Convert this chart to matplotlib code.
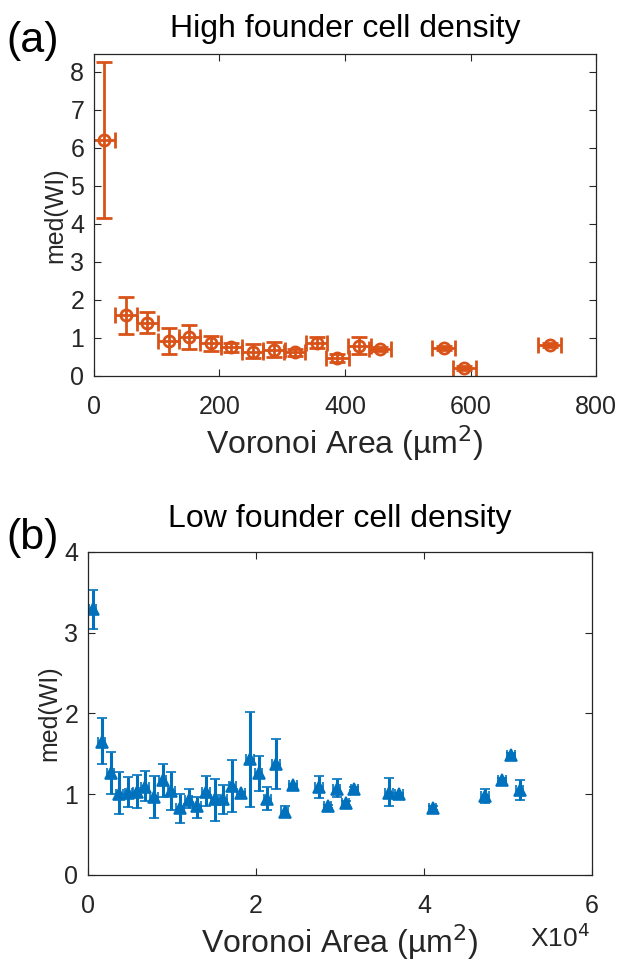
import matplotlib
matplotlib.use('Agg')
import matplotlib.pyplot as plt
import numpy as np

plt.rcParams['font.family'] = ['Liberation Sans', 'DejaVu Sans']

# (a) high founder cell density
high_area = [16, 51, 85, 119, 152, 186, 219, 253, 287, 320, 355, 388, 423, 456, 557, 590, 726]
high_med = [6.21, 1.61, 1.40, 0.92, 1.03, 0.88, 0.75, 0.64, 0.68, 0.63, 0.88, 0.47, 0.80, 0.70, 0.73, 0.22, 0.82]
high_hi = [8.27, 2.09, 1.68, 1.27, 1.33, 1.06, 0.86, 0.83, 0.89, 0.72, 1.03, 0.58, 1.03, 0.75, 0.78, 0.27, 0.87]
high_lo = [4.15, 1.10, 1.12, 0.58, 0.70, 0.66, 0.64, 0.47, 0.51, 0.53, 0.73, 0.38, 0.58, 0.65, 0.68, 0.17, 0.77]
high_xerr = [17, 17, 17, 17, 17, 17, 17, 17, 17, 17, 17, 18, 18, 18, 18, 18, 18]

# (b) low founder cell density
low_area = [560, 1630, 2700, 3730, 4800, 5800, 6820, 7860, 8890, 9920, 10950, 11990,
            13010, 14050, 15080, 16110, 17180, 18250, 19290, 20320, 21350, 22380, 23420, 24440,
            27500, 28530, 29600, 30680, 31710, 35830, 37020, 41030, 47260, 49320, 50360, 51390]
low_med = [3.29, 1.65, 1.26, 1.00, 1.02, 1.03, 1.09, 0.97, 1.18, 1.04, 0.83, 0.93,
           0.85, 1.03, 0.94, 0.94, 1.10, 1.01, 1.43, 1.26, 0.94, 1.38, 0.78, 1.11,
           1.09, 0.85, 1.07, 0.89, 1.07, 1.02, 1.00, 0.83, 0.98, 1.18, 1.49, 1.05]
low_hi = [3.53, 1.95, 1.52, 1.27, 1.21, 1.24, 1.29, 1.23, 1.38, 1.28, 1.00, 1.06,
          0.96, 1.22, 1.19, 1.11, 1.42, 1.03, 2.02, 1.47, 1.09, 1.68, 0.85, 1.13,
          1.23, 0.87, 1.19, 0.92, 1.09, 1.20, 1.02, 0.85, 1.07, 1.20, 1.51, 1.18]
low_lo = [3.04, 1.37, 1.00, 0.75, 0.84, 0.83, 0.92, 0.71, 0.96, 0.81, 0.64, 0.83,
          0.71, 0.85, 0.67, 0.75, 0.78, 0.99, 0.84, 1.04, 0.81, 1.06, 0.72, 1.09,
          0.95, 0.83, 0.97, 0.86, 1.05, 0.85, 0.98, 0.81, 0.89, 1.16, 1.47, 0.93]
low_xerr = 450

orange = '#D95319'
blue = '#0072BD'
dark = '#262626'


def style_axes(ax):
    ax.tick_params(direction='in', length=5, width=0.8, top=True, right=True,
                   labelsize=18, colors=dark, pad=7)
    ax.tick_params(axis='x', pad=14)
    for s in ax.spines.values():
        s.set_color(dark)
        s.set_linewidth(0.9)


fig = plt.figure(figsize=(6.2, 9.65), dpi=100)

ax1 = fig.add_axes([0.1516, 0.6104, 0.8097, 0.3337])
y = np.array(high_med)
yerr = [y - np.array(high_lo), np.array(high_hi) - y]
ax1.errorbar(high_area, high_med, yerr=yerr, xerr=high_xerr, fmt='o', color=orange,
             mfc='none', mec=orange, ms=8, mew=2.0, elinewidth=2.0, capsize=6, capthick=2.0)
ax1.set_xlim(0, 800)
ax1.set_ylim(0, 8.47)
ax1.set_xticks([0, 200, 400, 600, 800])
ax1.set_yticks(range(0, 9))
style_axes(ax1)
ax1.set_title('High founder cell density', fontsize=23, pad=12)
ax1.set_xlabel('Voronoi Area (µm$^2$)', fontsize=23, color=dark, labelpad=3)
ax1.set_ylabel('med(WI)', fontsize=18, color=dark, labelpad=2)

ax2 = fig.add_axes([0.1419, 0.0933, 0.8129, 0.3347])
y = np.array(low_med)
yerr = [y - np.array(low_lo), np.array(low_hi) - y]
ax2.errorbar(low_area, low_med, yerr=yerr, xerr=low_xerr, fmt='^', color=blue,
             mfc=blue, mec=blue, ms=8.5, mew=1.2, elinewidth=2.2, capsize=3.5, capthick=2.2)
ax2.set_xlim(0, 60000)
ax2.set_ylim(0, 4)
ax2.set_xticks([0, 20000, 40000, 60000])
ax2.set_xticklabels(['0', '2', '4', '6'])
ax2.set_yticks(range(0, 5))
style_axes(ax2)
ax2.set_title('Low founder cell density', fontsize=23, pad=18)
ax2.set_xlabel('Voronoi Area (µm$^2$)', fontsize=23, color=dark, labelpad=3)
ax2.set_ylabel('med(WI)', fontsize=18, color=dark, labelpad=2)
fig.text(0.952, 0.028, 'X10$^4$', fontsize=19, color=dark, ha='right', va='center')

fig.text(0.053, 0.958, '(a)', fontsize=31, ha='center', va='center')
fig.text(0.053, 0.443, '(b)', fontsize=31, ha='center', va='center')

fig.savefig('out.png', dpi=100)
